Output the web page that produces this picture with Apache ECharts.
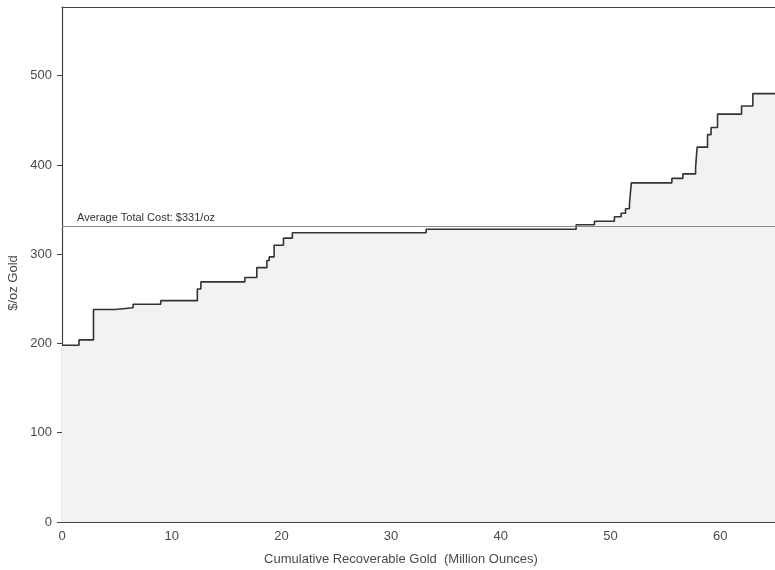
<!DOCTYPE html>
<html>
<head>
<meta charset="utf-8">
<script src="https://cdn.jsdelivr.net/npm/echarts@6/dist/echarts.min.js"></script>
<style>
html,body{margin:0;padding:0;background:#fff;}
#c{width:775px;height:570px;}
</style>
</head>
<body>
<div id="c"></div>
<script>
// Cumulative recoverable gold (million oz) at which each cost step begins
const cumulativeGold = [0, 1.55, 2.87, 4.84, 6.48, 9.0, 12.34, 12.66, 16.67, 17.76, 18.68, 18.89, 19.34, 20.19, 21.0, 33.2, 46.87, 48.54, 50.36, 50.97, 51.37, 51.73, 51.9, 55.6, 56.6, 57.76, 57.9, 58.85, 59.17, 59.76, 61.95, 62.98, 65];
// Total cost ($/oz) of each step
const totalCost = [198, 204, 238, 240, 244, 248, 261, 269, 274, 285, 293, 297, 310, 318, 324, 328, 333, 337, 342, 346, 351, 356, 380, 385, 390, 397, 420, 434, 442, 457, 466, 480, 480];
const avgCost = 331;
const avgLabel = 'Average Total Cost: $331/oz';
const xTicks = [0, 10, 20, 30, 40, 50, 60];
const yTicks = [0, 100, 200, 300, 400, 500];
const xName = 'Cumulative Recoverable Gold  (Million Ounces)';
const yName = '$/oz Gold';

const chart = echarts.init(document.getElementById('c'), null, {renderer: 'canvas'});
const txt = '#4a4a4a';
const font = 'Liberation Sans, Arial, sans-serif';
chart.setOption({
  animation: false,
  backgroundColor: '#ffffff',
  grid: {left: 62, right: 0, top: 7, bottom: 48},
  xAxis: [{
    type: 'value', min: 0, max: 65, interval: 10,
    axisLine: {show: true, lineStyle: {color: '#444', width: 1.2}},
    axisTick: {show: true, inside: true, length: 4, customValues: xTicks, lineStyle: {color: '#444'}},
    axisLabel: {color: txt, fontSize: 13, fontFamily: font, margin: 8, customValues: xTicks},
    splitLine: {show: false}
  }, {
    type: 'value', position: 'top', min: 0, max: 65,
    axisLine: {show: true, onZero: false, lineStyle: {color: '#444', width: 1.2}},
    axisTick: {show: false}, axisLabel: {show: false}, splitLine: {show: false}
  }],
  yAxis: {
    type: 'value', min: 0, max: 577, interval: 100,
    axisLine: {show: true, lineStyle: {color: '#444', width: 1.2}},
    axisTick: {show: true, length: 5, customValues: yTicks, lineStyle: {color: '#444'}},
    axisLabel: {color: txt, fontSize: 13, fontFamily: font, margin: 10, customValues: yTicks},
    splitLine: {show: false}
  },
  series: [{
    type: 'line',
    step: 'end',
    showSymbol: false,
    symbol: 'none',
    data: cumulativeGold.map((x, i) => [x, totalCost[i]]),
    lineStyle: {color: '#333', width: 1.6},
    areaStyle: {color: '#f2f2f2', opacity: 1},
    markLine: {
      silent: true,
      symbol: 'none',
      lineStyle: {color: '#8a8a8a', width: 1, type: 'solid'},
      label: {show: true, position: 'insideStartTop', formatter: avgLabel,
        color: '#333', fontSize: 11, fontFamily: font, distance: [15, 3]},
      data: [{yAxis: avgCost}]
    },
    z: 2
  }],
  graphic: [
    {type: 'text', x: 401, y: 559,
      style: {text: xName, fill: txt, font: '13px ' + font, textAlign: 'center', textVerticalAlign: 'middle'}},
    {type: 'text', x: 13, y: 283, rotation: Math.PI / 2,
      style: {text: yName, fill: txt, font: '13px ' + font, textAlign: 'center', textVerticalAlign: 'middle'}}
  ]
});
</script>
</body>
</html>
